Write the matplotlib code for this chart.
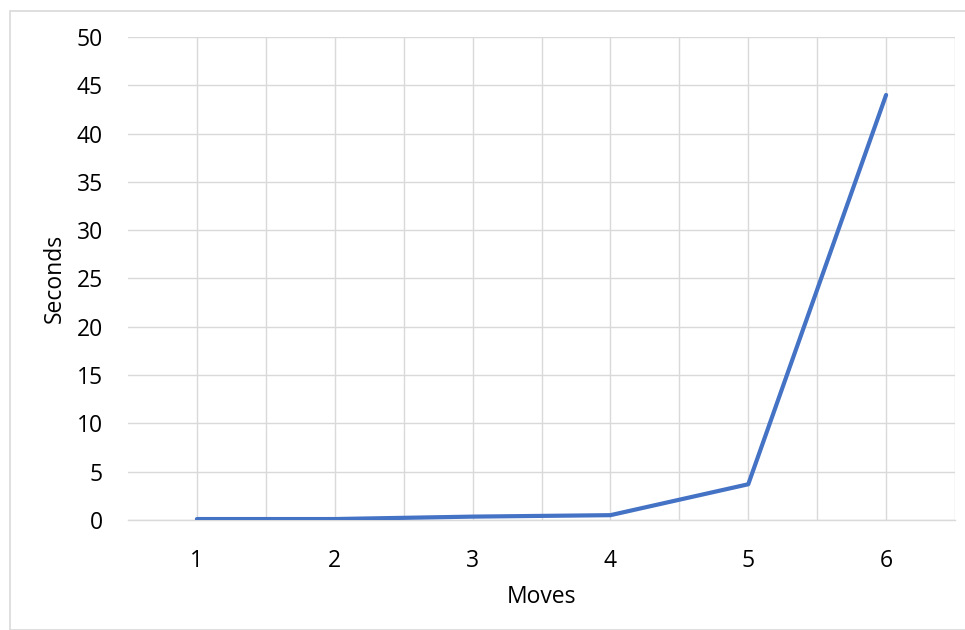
import matplotlib
matplotlib.use("Agg")
import matplotlib.pyplot as plt
from matplotlib.patches import Rectangle

# data
moves = [1, 2, 3, 4, 5, 6]
seconds = [0.1, 0.1, 0.35, 0.5, 3.7, 44.0]

plt.rcParams["font.family"] = ["Open Sans", "DejaVu Sans"]

W, H = 965, 630
fig = plt.figure(figsize=(W / 100, H / 100), dpi=100)

# outer chart border (light grey, like an Excel chart frame)
fig.patches.append(Rectangle((10 / W, 0), 1, 1 - 11 / H, transform=fig.transFigure,
                             fill=False, edgecolor="#d9d9d9", linewidth=1.2))

left, right, top, bottom = 128, 955, 37, 520
ax = fig.add_axes([left / W, 1 - bottom / H, (right - left) / W, (bottom - top) / H])

ax.plot(moves, seconds, color="#4472C4", linewidth=3.0, solid_capstyle="round",
        solid_joinstyle="round", zorder=3)

ax.set_xlim(0.5, 6.5)
ax.set_ylim(0, 50)
ax.set_yticks(range(0, 51, 5))
ax.set_xticks(moves)
ax.set_xticks([m + 0.5 for m in moves], minor=True)

ax.grid(True, which="major", color="#d9d9d9", linewidth=1.0)
ax.grid(True, which="minor", axis="x", color="#d9d9d9", linewidth=1.0)
ax.set_axisbelow(True)

for side in ["top", "right", "left"]:
    ax.spines[side].set_visible(False)
ax.spines["bottom"].set_color("#d9d9d9")
ax.spines["bottom"].set_linewidth(1.0)

ax.tick_params(which="both", length=0)
ax.tick_params(axis="y", pad=18, labelsize=16.5)
ax.tick_params(axis="x", pad=21, labelsize=16.5)

ax.set_xlabel("Moves", fontsize=16.5)
ax.set_ylabel("Seconds", fontsize=16.5)
ax.xaxis.set_label_coords(0.5, -0.135)
ax.yaxis.set_label_coords(-0.074, 0.5)

fig.savefig("out.png", dpi=100)
